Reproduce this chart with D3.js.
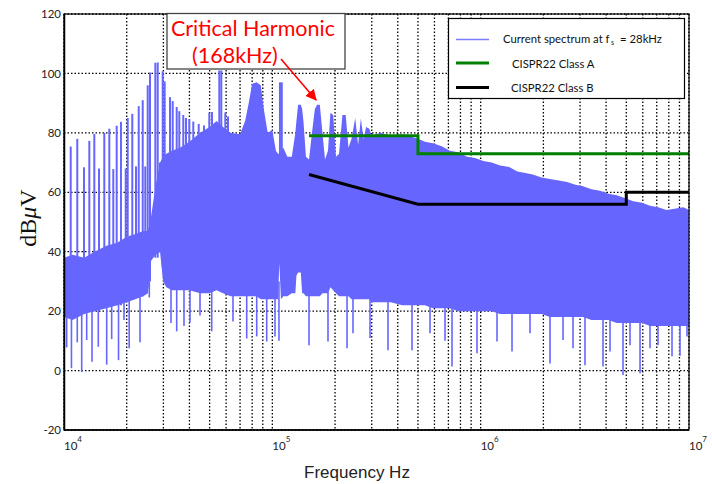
<!DOCTYPE html>
<html>
<head>
<meta charset="utf-8">
<script src="https://cdn.jsdelivr.net/npm/d3@7"></script>
<style>
  body { margin: 0; background: #fff; }
</style>
</head>
<body>
<script>
// dense part of the spectrum, kHz / dBuV
var bandKHz = [10, 11, 12.5, 14, 16, 18, 20, 22, 24, 25.3, 26.2, 27.5, 28.9, 29.9, 31, 33, 36, 40, 45, 50,
  54, 58, 63, 70, 74, 77, 80, 84, 88, 91, 95, 100, 104, 106.5, 108, 110, 113, 118, 124, 129, 130.5, 133, 137,
  139, 141, 145, 150, 155, 160, 164, 169, 174, 179, 185, 190, 196, 202, 209, 217, 225, 232, 240, 250, 258,
  266, 274, 282, 292, 300, 330, 370, 420, 500, 540, 590, 650, 710, 780, 860, 940, 1030, 1130, 1240, 1370,
  1500, 1640, 1780, 1960, 2150, 2370, 2600, 2850, 3100, 3400, 3740, 4100, 4500, 4950, 5400, 5950, 6500, 7100, 7800, 8500,
  9400, 10000];
var bandHi = [38, 39, 38, 40, 42, 43, 45, 46, 47, 47, 52, 62, 70, 72, 73, 74, 75, 77, 80, 82,
  84, 82, 80, 79.5, 84, 90, 96.5, 97, 96, 88, 80, 81, 74, 73, 73, 74, 75, 72, 72, 80, 84, 89.5, 89.5,
  88, 84, 72, 71, 80, 88, 89.5, 89.5, 80, 71, 74, 86.8, 86, 72, 73, 86, 86, 75, 78, 85, 76,
  84.8, 78, 82, 81.4, 79, 80, 79, 79.5, 78, 77, 76.5, 75.5, 74, 73.5, 72, 71.5, 70.5, 70, 69, 68.5,
  67, 66.5, 66, 65, 64.5, 64, 63.5, 62.5, 62, 61, 60.5, 59.5, 59, 58, 57, 56.5, 55.5, 55, 54, 54.5,
  55, 54];
var bandLo = [18, 17, 19, 20, 21, 22, 23, 24, 25, 26, 37, 39, 40, 30, 28, 27, 27, 27, 26, 26,
  27, 26, 25, 25, 25, 25, 25, 25, 24, 24, 24, 24, 24, 24, 36, 24, 25, 25, 26, 26, 32, 33, 33,
  26, 26, 25, 25, 25, 25, 25, 25, 26, 26, 26, 28, 27, 26, 25, 25, 25, 25, 24, 24, 24,
  24, 24, 24, 24, 23, 23, 23, 22, 22, 22, 21, 21, 21, 20, 20, 20, 20, 20, 19, 19,
  19, 19, 19, 19, 18, 18, 18, 18, 18, 17, 17, 17, 16, 16, 16, 16, 15, 15, 15, 15,
  15, 15];

// harmonic lines standing above the band
var peakKHz = [10.0, 10.77, 11.58, 12.47, 13.23, 13.98, 14.72, 15.61, 16.5, 17.24, 17.9, 18.77, 19.78, 20.22,
  21.27, 22.16, 22.84, 23.87, 24.56, 25.22, 25.87, 27.44, 28.17, 28.89, 29.77, 30.43, 32.27, 33.25,
  34.75, 35.76, 37.37, 38.51, 39.94, 41.74, 44.32, 46.99, 49.82, 51.33, 55.65, 56.89, 59.46, 61.27,
  108.8, 111.0];
var peakHi = [69, 75.4, 78, 68.4, 77.3, 79.6, 68, 80, 81.4, 67.8, 82.4, 83.7, 68, 85,
  86.4, 68.7, 89, 91, 68.7, 96, 100.3, 103.6, 103.7, 70, 100.7, 97.3, 92, 90.7,
  88.7, 87.3, 86, 85, 84.6, 83.8, 83, 82.5, 86.8, 87, 101, 101, 86.8, 85.5,
  97, 97];
var peakLo = [20, 18, 20, 20, 20, 20, 22, 22, 22, 22, 22, 22, 24, 24,
  24, 25, 25, 25, 26, 28, 30, 38, 38, 40, 35, 30, 30, 30,
  30, 30, 30, 30, 30, 30, 30, 30, 30, 30, 30, 30, 30, 30,
  40, 40];

// lines reaching down below the band
var dipKHz = [10.3, 10.86, 11.58, 12.16, 12.85, 13.63, 14.61, 16.03, 16.94, 18.27, 19.41, 20.55, 23.17, 25.67,
  32.63, 34.75, 37.67, 40.25, 44.96, 51.17, 64.74, 75.34, 84.14, 93.97, 103, 107.6, 150, 185,
  228.3, 243.9, 294.4, 359.1, 468.3, 571.3, 674.3, 728.6, 960.3, 1198, 1414, 1725, 2152, 2485,
  2775, 3168, 3866, 4177, 4822, 5210, 5821, 6498, 7099, 8287, 9052, 9781];
var dipLo = [7.8, 0.8, 9.5, -0.5, 10.3, 3, 8, 2, 10.6, 3.5, 17, 7.5, 9.5, 24.6,
  16, 13.2, 15, 16.2, 18.5, 13.2, 16.5, 10.8, 11.5, 9.8, 11.5, 10, 8.5, 9.8,
  7.5, 12.6, 11, 6.8, 6.8, 12.6, 10, 1.4, 5.8, 9.8, 6.4, 12.6, 2.4, 10.3,
  7.5, 1.8, 1.4, 6.4, -1.5, 8.5, -0.9, 7.5, 8.5, 4.8, 5, 11.5];

// CISPR22 conducted limits
var classAKHz = [150, 500, 500, 10000];
var classADb = [79, 79, 73, 73];
var classBKHz = [150, 500, 5000, 5000, 10000];
var classBDb = [66, 56, 56, 60, 60];

var yTicks = [-20, 0, 20, 40, 60, 80, 100, 120];
var decadeKHz = [10, 100, 1000, 10000];
var decadeExp = ['4', '5', '6', '7'];

var blue = '#6666ff';
var plot = {left: 64, right: 689, top: 14, bottom: 430};

var svg = d3.select('body').append('svg')
  .attr('width', 712)
  .attr('height', 484)
  .attr('font-family', 'Lato, sans-serif');

var x = d3.scaleLog().domain([10, 10000]).range([plot.left, plot.right]);
var y = d3.scaleLinear().domain([-20, 120]).range([plot.bottom, plot.top]);

svg.append('clipPath').attr('id', 'clip')
  .append('rect')
  .attr('x', plot.left).attr('y', plot.top)
  .attr('width', plot.right - plot.left).attr('height', plot.bottom - plot.top);

// dotted grid
var grid = svg.append('g')
  .attr('stroke', '#000')
  .attr('stroke-width', 1.3)
  .attr('stroke-dasharray', '1.5,2');

grid.selectAll('line.v').data(x.ticks()).enter().append('line')
  .attr('x1', function(d) { return x(d); })
  .attr('x2', function(d) { return x(d); })
  .attr('y1', plot.top).attr('y2', plot.bottom);

grid.selectAll('line.h').data(yTicks).enter().append('line')
  .attr('y1', function(d) { return y(d); })
  .attr('y2', function(d) { return y(d); })
  .attr('x1', plot.left).attr('x2', plot.right);

// spectrum
var g = svg.append('g').attr('clip-path', 'url(#clip)');

var band = bandKHz.map(function(f, i) { return {f: f, hi: bandHi[i], lo: bandLo[i]}; });
g.append('path')
  .datum(band)
  .attr('fill', blue)
  .attr('d', d3.area()
    .x(function(d) { return x(d.f); })
    .y0(function(d) { return y(d.lo); })
    .y1(function(d) { return y(d.hi); }));

g.selectAll('line.peak').data(peakKHz).enter().append('line')
  .attr('x1', function(d) { return x(d); })
  .attr('x2', function(d) { return x(d); })
  .attr('y1', function(d, i) { return y(peakLo[i]); })
  .attr('y2', function(d, i) { return y(peakHi[i]); })
  .attr('stroke', blue)
  .attr('stroke-width', 2);

g.selectAll('line.dip').data(dipKHz).enter().append('line')
  .attr('x1', function(d) { return x(d); })
  .attr('x2', function(d) { return x(d); })
  .attr('y1', function(d, i) { return y(dipLo[i]); })
  .attr('y2', y(30))
  .attr('stroke', blue)
  .attr('stroke-width', 1.6);

// limit lines
var limit = d3.line()
  .x(function(d) { return x(d[0]); })
  .y(function(d) { return y(d[1]); });

svg.append('path')
  .datum(d3.zip(classAKHz, classADb))
  .attr('fill', 'none')
  .attr('stroke', '#008000')
  .attr('stroke-width', 3)
  .attr('d', limit);

svg.append('path')
  .datum(d3.zip(classBKHz, classBDb))
  .attr('fill', 'none')
  .attr('stroke', '#000')
  .attr('stroke-width', 3)
  .attr('d', limit);

// frame and axes
svg.append('rect')
  .attr('x', plot.left).attr('y', plot.top)
  .attr('width', plot.right - plot.left).attr('height', plot.bottom - plot.top)
  .attr('fill', 'none')
  .attr('stroke', '#000')
  .attr('stroke-width', 1.2);

var yAxis = svg.append('g')
  .attr('transform', 'translate(' + plot.left + ',0)')
  .call(d3.axisLeft(y).tickValues(yTicks).tickSize(0).tickPadding(3)
    .tickFormat(function(d) { return String(d); }));
yAxis.select('.domain').attr('stroke-width', 1.5);
yAxis.selectAll('text')
  .attr('font-family', 'Lato, sans-serif')
  .attr('font-size', 11.5)
  .attr('fill', '#222');

svg.append('line')
  .attr('x1', plot.left).attr('x2', plot.right)
  .attr('y1', plot.bottom).attr('y2', plot.bottom)
  .attr('stroke', '#000')
  .attr('stroke-width', 1.5);

var xLabels = svg.selectAll('text.xt').data(decadeKHz).enter().append('text')
  .attr('x', function(d) { return x(d); })
  .attr('y', 450)
  .attr('font-size', 11.5)
  .attr('fill', '#222');
xLabels.append('tspan').text('10');
xLabels.append('tspan')
  .attr('dy', -8)
  .attr('font-size', 8)
  .text(function(d, i) { return decadeExp[i]; });

svg.append('text')
  .attr('x', 357)
  .attr('y', 478)
  .attr('text-anchor', 'middle')
  .attr('font-family', '"Liberation Sans", Arial, sans-serif')
  .attr('font-size', 17)
  .attr('fill', '#222')
  .text('Frequency Hz');

var yLab = svg.append('text')
  .attr('transform', 'translate(36,218) rotate(-90)')
  .attr('text-anchor', 'middle')
  .attr('font-family', '"Liberation Serif", "DejaVu Serif", serif')
  .attr('font-size', 24)
  .attr('fill', '#111');
yLab.append('tspan').text('dB');
yLab.append('tspan').attr('font-style', 'italic').text('\u03bc');
yLab.append('tspan').text('V');

// legend
var leg = svg.append('g');
leg.append('rect')
  .attr('x', 448.5).attr('y', 18.5)
  .attr('width', 236).attr('height', 80)
  .attr('fill', '#fff')
  .attr('stroke', '#000')
  .attr('stroke-width', 1.2);

var legItems = [
  {y: 39.5, color: '#7b7bff', w: 1.3, tx: 503, label: 'Current spectrum at f'},
  {y: 63, color: '#008000', w: 3, tx: 512, label: 'CISPR22 Class A'},
  {y: 87.5, color: '#000', w: 3, tx: 511, label: 'CISPR22 Class B'}
];
legItems.forEach(function(d, i) {
  leg.append('line')
    .attr('x1', 456).attr('x2', 489)
    .attr('y1', d.y).attr('y2', d.y)
    .attr('stroke', d.color)
    .attr('stroke-width', d.w);
  var t = leg.append('text')
    .attr('x', d.tx).attr('y', d.y + 3.5 + (i > 0 ? 1 : 0))
    .attr('font-size', 11.3)
    .attr('fill', '#111')
    .text(d.label);
  if (i === 0) {
    t.append('tspan').attr('font-size', 7).attr('dx', 1.5).attr('dy', 2).text('s');
    t.append('tspan').attr('dx', 6).attr('dy', -2).text('= 28kHz');
  }
});

// annotation
svg.append('defs').append('marker')
  .attr('id', 'arrow')
  .attr('viewBox', '0 0 10 10')
  .attr('refX', 9).attr('refY', 5)
  .attr('markerWidth', 7).attr('markerHeight', 7)
  .attr('orient', 'auto')
  .append('path')
  .attr('d', 'M0,0L10,5L0,10z')
  .attr('fill', '#f00');

svg.append('rect')
  .attr('x', 167).attr('y', 13.5)
  .attr('width', 178).attr('height', 55.5)
  .attr('fill', '#fff')
  .attr('stroke', '#444')
  .attr('stroke-width', 1.3);

svg.append('text')
  .attr('x', 171).attr('y', 36)
  .attr('font-size', 21.5)
  .attr('fill', '#f00')
  .text('Critical Harmonic');
svg.append('text')
  .attr('x', 192).attr('y', 63)
  .attr('font-size', 21.5)
  .attr('fill', '#f00')
  .text('(168kHz)');

svg.append('line')
  .attr('x1', 281).attr('y1', 59)
  .attr('x2', 316).attr('y2', 100)
  .attr('stroke', '#f00')
  .attr('stroke-width', 1.6)
  .attr('marker-end', 'url(#arrow)');
</script>
</body>
</html>
